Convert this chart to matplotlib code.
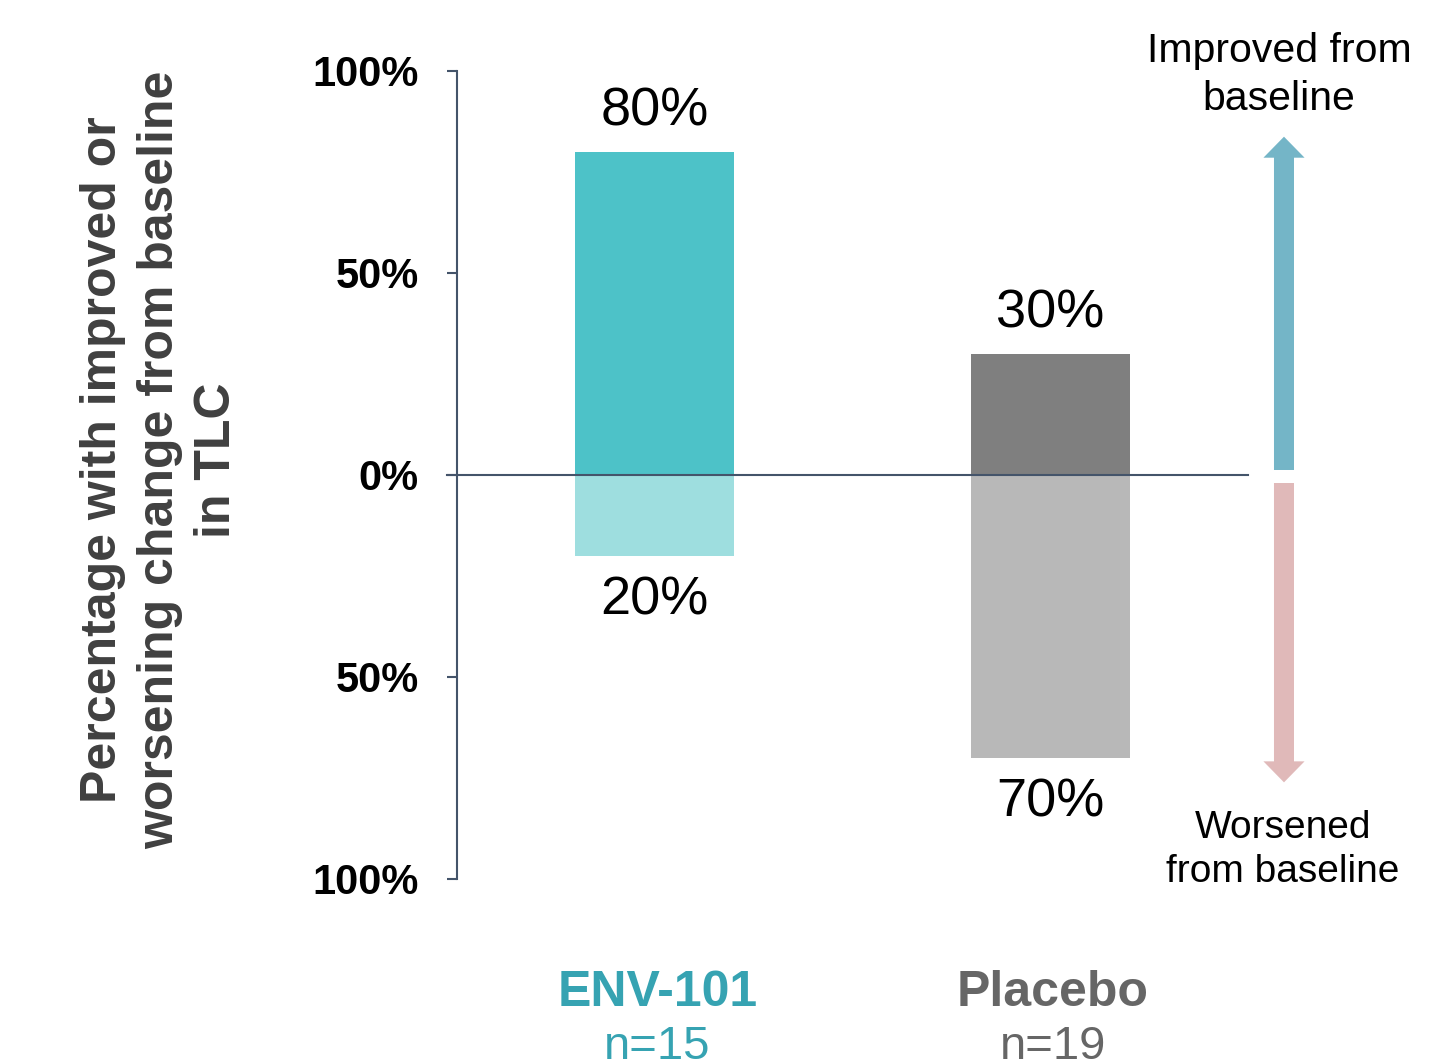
import matplotlib

matplotlib.use("Agg")

import matplotlib.pyplot as plt
from matplotlib.patches import FancyArrow

plt.rcParams["font.family"] = ["Liberation Sans", "DejaVu Sans"]

# Share of patients improved / worsened from baseline in TLC
groups = ["ENV-101", "Placebo"]
group_n = ["n=15", "n=19"]
improved = [80, 30]
worsened = [20, 70]

y_ticks = [100, 50, 0, -50, -100]
y_tick_labels = ["100%", "50%", "0%", "50%", "100%"]

# palette
POS_COLORS = ["#4DC2C8", "#7F7F7F"]
NEG_COLORS = ["#9EDEDF", "#B8B8B8"]
NAME_COLORS = ["#36A3B2", "#666666"]
AXIS = "#44546A"
UP_ARROW = "#74B5C7"
DOWN_ARROW = "#E0B9B9"

fig = plt.figure(figsize=(14.45, 10.59), dpi=100)
ax = fig.add_axes([457 / 1445, 1 - 879 / 1059, 791 / 1445, 808 / 1059])

x = list(range(len(groups)))
bar_w = 0.4025
ax.bar(x, improved, width=bar_w, color=POS_COLORS, zorder=2)
ax.bar(x, [-v for v in worsened], width=bar_w, color=NEG_COLORS, zorder=2)

for i in x:
    ax.annotate(f"{improved[i]}%", xy=(i, improved[i]), xytext=(0, 19),
                textcoords="offset points", ha="center", va="baseline",
                fontsize=39, color="black")
    ax.annotate(f"{worsened[i]}%", xy=(i, -worsened[i]), xytext=(0, -14),
                textcoords="offset points", ha="center", va="top",
                fontsize=39, color="black")
    # group name and sample size under the axis
    ax.annotate(groups[i], xy=(i, -100), xytext=(2, -82),
                textcoords="offset points", ha="center", va="center",
                fontsize=36, fontweight="bold", color=NAME_COLORS[i],
                annotation_clip=False)
    ax.annotate(group_n[i], xy=(i, -100), xytext=(2, -121),
                textcoords="offset points", ha="center", va="center",
                fontsize=34, color=NAME_COLORS[i], annotation_clip=False)

ax.axhline(0, color=AXIS, lw=1.5, zorder=3, xmin=-0.013, clip_on=False)

ax.set_xlim(-0.5, 1.5)
ax.set_ylim(-100, 100)
ax.set_yticks(y_ticks)
ax.set_yticklabels(y_tick_labels, fontsize=30, fontweight="bold")
ax.set_xticks([])
for side in ("top", "right", "bottom"):
    ax.spines[side].set_visible(False)
ax.spines["left"].set_color(AXIS)
ax.spines["left"].set_linewidth(1.5)
ax.tick_params(axis="y", length=7.5, width=1.5, color=AXIS, pad=20)

# direction arrows on the right
ax.add_patch(FancyArrow(1.591, 1.24, 0, 77.3, width=0.0506, head_width=0.104,
                        head_length=5.2, length_includes_head=False,
                        color=UP_ARROW, clip_on=False, lw=0))
ax.add_patch(FancyArrow(1.591, -1.98, 0, -68.9, width=0.0506, head_width=0.104,
                        head_length=5.2, length_includes_head=False,
                        color=DOWN_ARROW, clip_on=False, lw=0))

fig.text(1279 / 1445, 1 - 75 / 1059, "Improved from\nbaseline", ha="center",
         va="center", fontsize=29.5, linespacing=1.3)
fig.text(1283 / 1445, 1 - 850 / 1059, "Worsened\nfrom baseline", ha="center",
         va="center", fontsize=28, linespacing=1.3)

fig.text(160 / 1445, 1 - 460 / 1059,
         "Percentage with improved or\nworsening change from baseline\nin TLC",
         rotation=90, ha="center", va="center", multialignment="center",
         fontsize=36, fontweight="bold", color="#404040", linespacing=1.3)

fig.savefig("out.png", dpi=100, facecolor="white")
